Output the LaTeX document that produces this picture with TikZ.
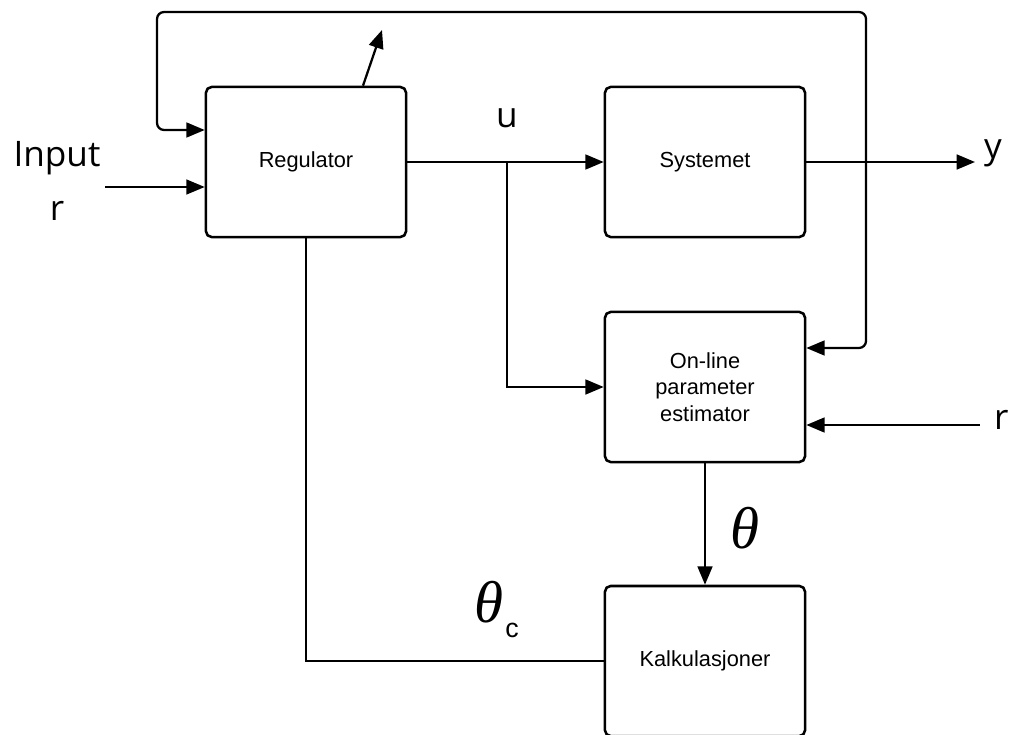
\documentclass[tikz,border=0pt]{standalone}
\usepackage{fontspec}
\setmainfont{Liberation Sans}
\newfontfamily\thetafont{Liberation Serif}
\newfontfamily\labelfont{Open Sans}
\usetikzlibrary{arrows.meta,positioning}

\begin{document}
\begin{tikzpicture}[
  x=0.025cm, y=-0.025cm,
  block/.style={draw,rounded corners=4pt,line width=1.8pt,minimum width=5cm,minimum height=3.75cm,
    align=center,font=\fontsize{15.5}{19}\selectfont},
  lbl/.style={font=\labelfont\fontsize{25}{38}\selectfont,inner sep=0pt},
  greek/.style={font=\fontsize{42}{44}\thetafont\itshape,inner sep=0pt},
  line width=1.6pt,
  >={Triangle[length=13pt,width=10.5pt]}
]
  \useasboundingbox (0,0) rectangle (1018,735);

  % Blocks
  \node[block] (reg) at (306,162) {Regulator};
  \node[block] (sys) at (705,162) {Systemet};
  \node[block] (est) at (705,387) {On-line\\parameter\\estimator};
  \node[block] (calc) at (705,661) {Kalkulasjoner};

  % Free ends
  \coordinate (inr) at (105,187);
  \coordinate (yout) at (975,162);
  \coordinate (rin) at (980,425);
  \coordinate (adj) at (382,30);
  \coordinate (branch) at (507,162);
  \coordinate (tl) at (157,12);
  \coordinate (tr) at (866,12);

  % Labels
  \node[lbl,align=center] (inlab) at (57,181) {Input\\r};
  \node[lbl] (ulab) at (507,118) {u};
  \node[lbl,anchor=west] (ylab) at (983,153) {y};
  \node[lbl,anchor=west] (rlab) at (993,420) {r};
  \node[greek] (th) at (745,528) {θ};
  \node[greek] (thc) at (489,602) {θ};
  \node[font=\fontsize{19}{19}\selectfont,inner sep=0pt] (clab) at (512,630) {c};

  % Arrows
  \draw[->,line width=1.3pt] (inr) -- (reg.west |- inr);
  \draw[->] (reg) -- (sys);
  \draw[->] (sys) -- (yout);
  \draw[->] (branch) |- (est);
  \draw[->] (rin) -- (est.east |- rin);
  \draw[->] (est) -- (calc);
  \draw (calc) -| (reg);
  \draw[->] (reg.north -| 363,0) -- (adj);
  \draw[<->,rounded corners=5pt] (reg.west |- 0,130) -| (tl) -- (tr) |- (est.east |- 0,348);
\end{tikzpicture}
\end{document}
